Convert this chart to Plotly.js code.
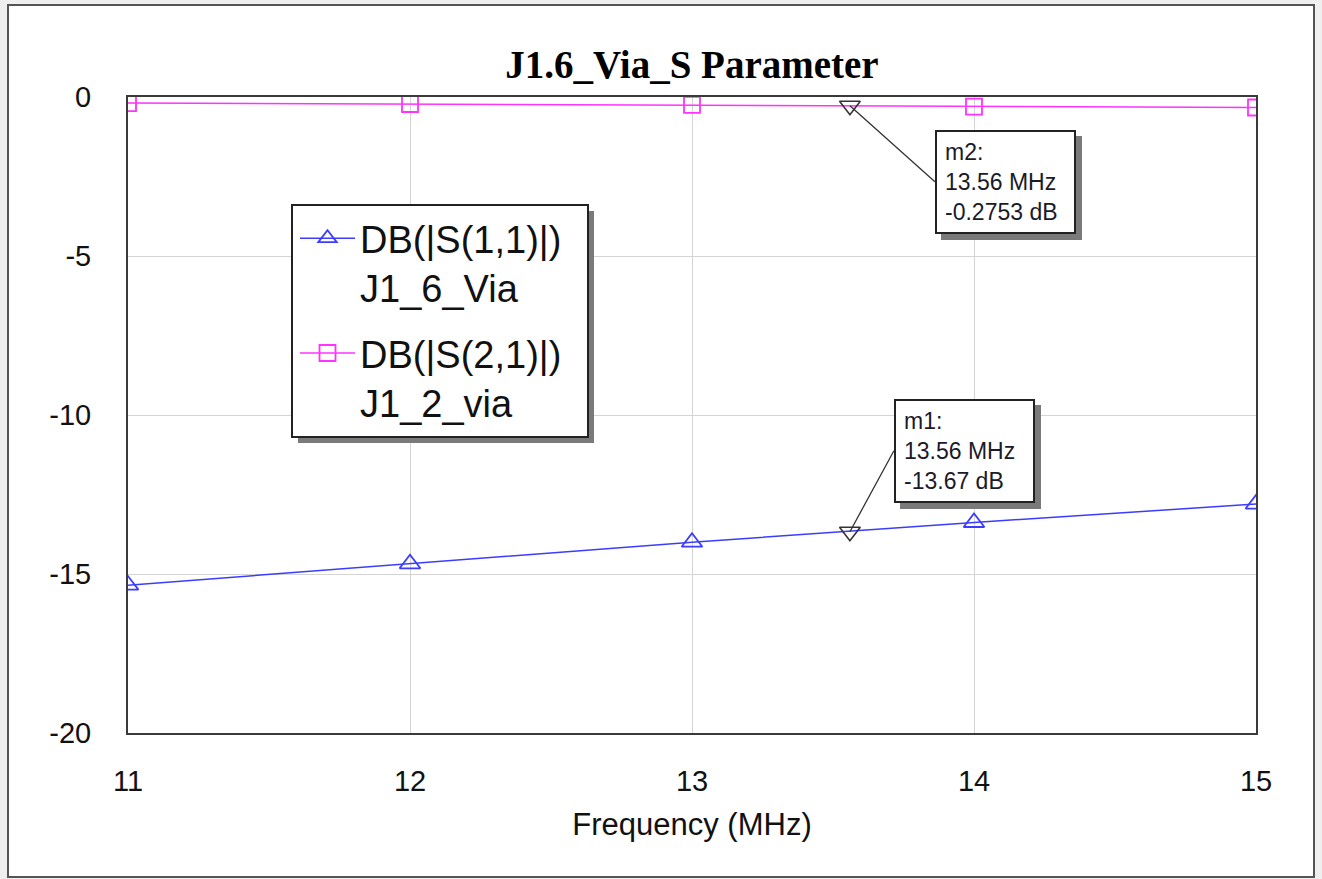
<!DOCTYPE html>
<html>
<head>
<meta charset="utf-8">
<script src="https://cdn.plot.ly/plotly-3.0.1.min.js"></script>
<style>
  html, body { margin: 0; padding: 0; background: #efefef; }
  #chart { width: 1322px; height: 879px; }
</style>
</head>
<body>
<div id="chart"></div>
<script>
// Sweep frequencies (MHz) and simulated responses (dB)
const freqMHz = [11, 12, 13, 14, 15];
const s11dB = [-15.35, -14.68, -14.0, -13.38, -12.8];
const s21dB = [-0.19, -0.22, -0.25, -0.30, -0.33];

// Legend labels (measurement / document)
const s11Label = ['DB(|S(1,1)|)', 'J1_6_Via'];
const s21Label = ['DB(|S(2,1)|)', 'J1_2_via'];

// Readout markers
const markerNames = ['m1', 'm2'];
const markerFreq = [13.56, 13.56];
const markerdB = [-13.67, -0.2753];

// Axis ticks
const xTicks = [11, 12, 13, 14, 15];
const yTicks = [0, -5, -10, -15, -20];

const sans = 'Liberation Sans, Arial, sans-serif';
const blue = 'rgb(60,60,255)';
const magenta = 'rgb(255,50,255)';

const traces = [
  {
    x: freqMHz, y: s11dB, name: s11Label.join('<br>'), legendgroup: 's11',
    type: 'scatter', mode: 'lines+markers',
    line: { color: blue, width: 1.5 },
    marker: { symbol: 'triangle-up-open', size: 18, color: blue, line: { width: 1.8 } }
  },
  {
    x: freqMHz, y: s21dB, name: s21Label.join('<br>'), legendgroup: 's21',
    type: 'scatter', mode: 'lines+markers',
    line: { color: magenta, width: 1.5 },
    marker: { symbol: 'square-open', size: 16, color: magenta, line: { width: 1.8 } }
  },
  {
    x: markerFreq, y: markerdB, name: 'markers', showlegend: false,
    type: 'scatter', mode: 'markers', cliponaxis: false,
    marker: { symbol: 'triangle-down-open', size: 18, color: '#333', line: { width: 1.6 } }
  }
];

// Marker readout boxes: [x offset, y offset] of the box from the marked point
const boxOffsets = [[44, -81], [85, 76]];
const annotations = [];
markerNames.forEach((m, i) => {
  const text = m + ':<br>' + markerFreq[i].toFixed(2) + ' MHz<br>' + markerdB[i] + ' dB';
  const common = {
    x: markerFreq[i], y: markerdB[i], xref: 'x', yref: 'y',
    showarrow: true, arrowhead: 0, arrowwidth: 1.3,
    ax: boxOffsets[i][0], ay: boxOffsets[i][1],
    xanchor: 'left', yanchor: 'middle', align: 'left',
    borderwidth: 2, borderpad: 8, width: 121, height: 84, standoff: 0
  };
  // drop shadow box
  annotations.push(Object.assign({}, common, {
    text: '&nbsp;', xshift: 6, yshift: -6, bgcolor: '#7a7a7a', bordercolor: '#7a7a7a',
    arrowcolor: 'rgba(0,0,0,0)', font: { family: sans, size: 23, color: '#7a7a7a' }
  }));
  annotations.push(Object.assign({}, common, {
    text: text, bgcolor: 'white', bordercolor: '#222', arrowcolor: '#333',
    font: { family: sans, size: 23, color: '#1a1a28' }
  }));
});

// Pixel helpers for paper-referenced decoration
const L = 128, R = 66, T = 97, B = 146, W = 1322, H = 879;
const pw = W - L - R, ph = H - T - B;
const px = v => (v - L) / pw;
const py = v => (H - B - v) / ph;

const shapes = [
  // window frame
  { type: 'rect', xref: 'paper', yref: 'paper', layer: 'below',
    x0: px(8), x1: px(1314), y0: py(877), y1: py(5),
    line: { color: '#555', width: 2 }, fillcolor: 'white' },
  // legend drop shadow
  { type: 'rect', xref: 'paper', yref: 'paper', layer: 'above',
    x0: px(298), x1: px(594), y0: py(443), y1: py(211),
    line: { width: 0 }, fillcolor: '#7a7a7a' },
  // legend panel
  { type: 'rect', xref: 'paper', yref: 'paper', layer: 'above',
    x0: px(292), x1: px(588), y0: py(437), y1: py(205),
    line: { color: '#222', width: 2 }, fillcolor: 'white' }
];

const layout = {
  width: W, height: H,
  margin: { l: L, r: R, t: T, b: B },
  paper_bgcolor: '#efefef', plot_bgcolor: 'white',
  title: {
    text: '<b>J1.6_Via_S Parameter</b>',
    font: { family: 'Liberation Serif, Times New Roman, serif', size: 39, color: '#000' },
    x: 0.5, xref: 'paper', y: 1 - 64 / H, yref: 'container', yanchor: 'middle'
  },
  xaxis: {
    range: [11, 15], tickvals: xTicks, ticktext: xTicks.map(String),
    showgrid: true, gridcolor: '#d4d4d4', gridwidth: 1, zeroline: false,
    showline: true, mirror: true, linecolor: '#3a3a3a', linewidth: 2,
    ticks: '', ticklabelstandoff: 21,
    tickfont: { family: sans, size: 29, color: '#111' },
    title: { text: 'Frequency (MHz)', standoff: 18, font: { family: sans, size: 31, color: '#111' } }
  },
  yaxis: {
    range: [-20, 0], tickvals: yTicks, ticktext: yTicks.map(String),
    showgrid: true, gridcolor: '#d4d4d4', gridwidth: 1, zeroline: false,
    showline: true, mirror: true, linecolor: '#3a3a3a', linewidth: 2,
    ticks: '', ticklabelstandoff: 29,
    tickfont: { family: sans, size: 29, color: '#111' }
  },
  legend: {
    x: px(295), y: py(207), xref: 'paper', yref: 'paper', xanchor: 'left', yanchor: 'top',
    bgcolor: 'rgba(0,0,0,0)', borderwidth: 0,
    font: { family: sans, size: 38, color: '#111' },
    itemwidth: 55, valign: 'top', traceorder: 'grouped', tracegroupgap: 13
  },
  shapes: shapes,
  annotations: annotations,
  showlegend: true
};

Plotly.newPlot('chart', traces, layout, { staticPlot: true, displayModeBar: false });
</script>
</body>
</html>
